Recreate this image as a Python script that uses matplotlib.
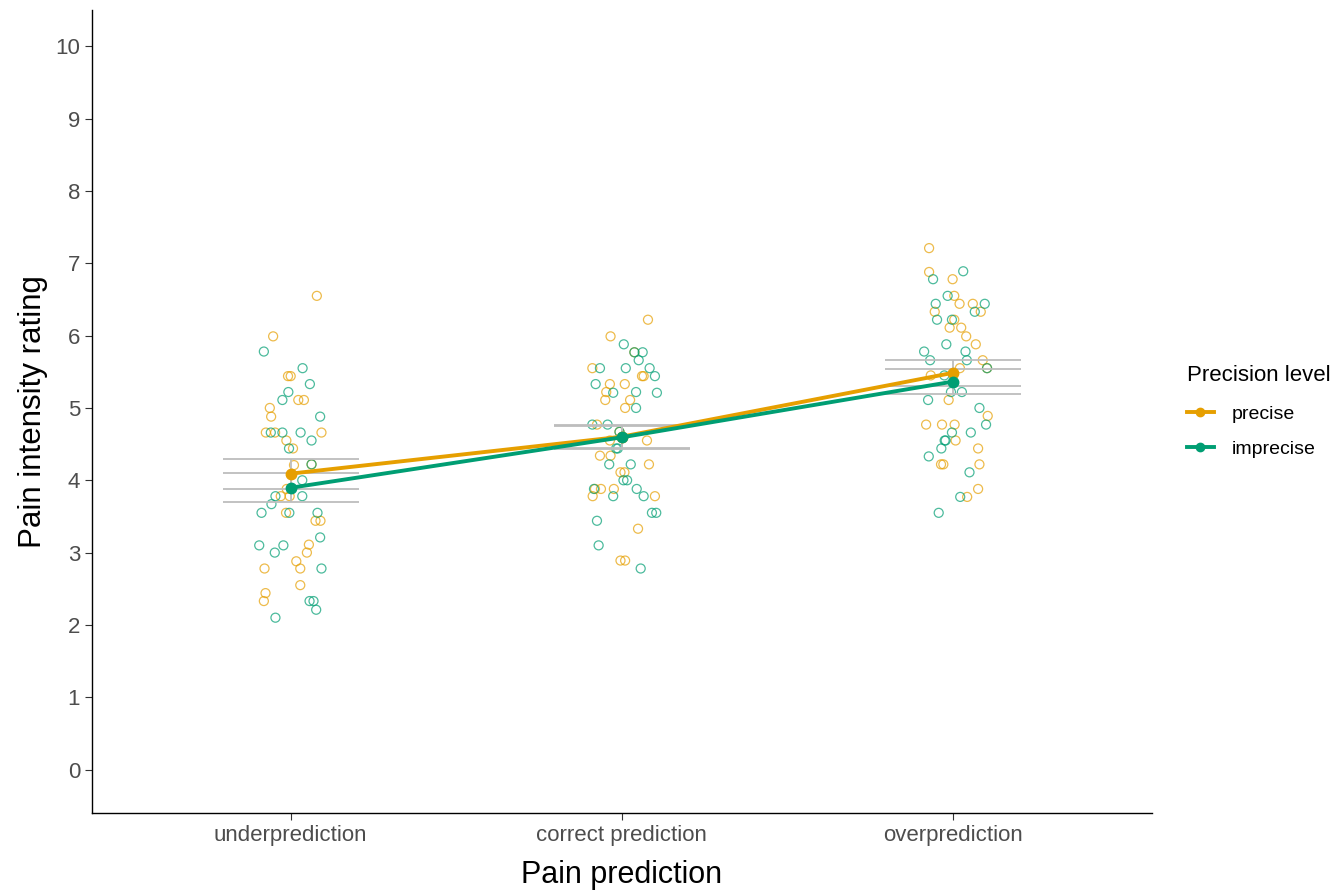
import matplotlib.pyplot as plt
import numpy as np

plt.rcParams['font.family'] = ['Liberation Sans', 'DejaVu Sans']

categories = ["underprediction", "correct prediction", "overprediction"]
levels = ["precise", "imprecise"]
colors = {"precise": "#E69F00", "imprecise": "#009E73"}

# individual ratings (value, horizontal jitter)
under_precise = [6.55, 5.99, 5.44, 5.44, 5.11, 5.11, 5.00, 4.88, 4.66, 4.66, 4.66, 4.55, 4.44,
                 4.21, 4.22, 3.88, 3.78, 3.78, 3.55, 3.44, 3.44, 3.11, 3.00, 2.88, 2.78, 2.78,
                 2.55, 2.44, 2.33]
under_precise_jit = [0.079, -0.053, -0.008, 0.0, 0.023, 0.04, -0.063, -0.059, -0.075, -0.047,
                     0.093, -0.013, 0.007, 0.01, 0.063, -0.012, -0.03, -0.003, -0.014, 0.075,
                     0.09, 0.055, 0.049, 0.017, -0.079, 0.029, 0.029, -0.076, -0.081]
under_imprecise = [5.78, 5.55, 5.33, 5.22, 5.11, 4.88, 4.66, 4.66, 4.66, 4.55, 4.44, 4.22, 4.00,
                   3.78, 3.78, 3.67, 3.55, 3.55, 3.55, 3.21, 3.10, 3.10, 3.00, 2.78, 2.33, 2.33,
                   2.21, 2.10]
under_imprecise_jit = [-0.081, 0.036, 0.058, -0.007, -0.025, 0.089, -0.06, -0.025, 0.03, 0.063,
                       -0.005, 0.063, 0.035, -0.046, 0.035, -0.058, -0.088, -0.004, 0.081, 0.089,
                       -0.095, -0.022, -0.048, 0.093, 0.057, 0.069, 0.077, -0.046]

correct_precise = [6.22, 5.99, 5.77, 5.55, 5.44, 5.44, 5.33, 5.33, 5.22, 5.11, 5.11, 5.00, 4.77,
                   4.67, 4.55, 4.55, 4.34, 4.34, 4.22, 4.11, 4.11, 3.88, 3.88, 3.88, 3.78, 3.78,
                   3.33, 2.89, 2.89]
correct_precise_jit = [0.079, -0.034, 0.038, -0.089, 0.061, 0.066, -0.036, 0.009, -0.047, 0.025,
                       -0.05, 0.01, -0.075, -0.007, -0.036, 0.076, -0.066, -0.034, 0.082, -0.004,
                       0.008, -0.081, -0.063, -0.024, -0.088, 0.1, 0.049, -0.004, 0.01]
correct_imprecise = [5.88, 5.77, 5.77, 5.66, 5.55, 5.55, 5.55, 5.44, 5.33, 5.21, 5.22, 5.21, 5.00,
                     4.77, 4.77, 4.67, 4.44, 4.44, 4.22, 4.22, 4.00, 4.00, 3.88, 3.88, 3.78, 3.78,
                     3.55, 3.55, 3.44, 3.10, 2.78]
correct_imprecise_jit = [0.006, 0.038, 0.063, 0.051, -0.066, 0.012, 0.084, 0.1, -0.079, -0.026,
                         0.043, 0.106, 0.043, -0.089, -0.043, -0.007, -0.017, -0.012, -0.038,
                         0.027, 0.005, 0.016, -0.084, 0.045, -0.026, 0.066, 0.091, 0.104, -0.075,
                         -0.07, 0.057]

over_precise = [7.21, 6.88, 6.78, 6.55, 6.44, 6.44, 6.33, 6.33, 6.22, 6.11, 6.11, 5.99, 5.88,
                5.66, 5.55, 5.55, 5.45, 5.11, 4.89, 4.77, 4.77, 4.77, 4.55, 4.44, 4.22, 4.22,
                4.22, 3.88, 3.77]
over_precise_jit = [-0.072, -0.072, -0.001, 0.004, 0.02, 0.06, -0.055, 0.084, 0.004, -0.01, 0.025,
                    0.04, 0.069, 0.09, 0.103, 0.021, -0.067, -0.013, 0.105, -0.081, -0.033, 0.005,
                    0.008, 0.076, -0.036, -0.029, 0.08, 0.076, 0.043]
over_imprecise = [6.89, 6.78, 6.55, 6.44, 6.44, 6.33, 6.22, 6.22, 5.88, 5.78, 5.78, 5.66, 5.66,
                  5.55, 5.45, 5.22, 5.22, 5.11, 5.00, 4.77, 4.66, 4.66, 4.55, 4.55, 4.44, 4.33,
                  4.11, 3.77, 3.55]
over_imprecise_jit = [0.031, -0.06, -0.016, -0.052, 0.096, 0.066, -0.048, -0.003, -0.02, -0.087,
                      0.038, -0.069, 0.042, 0.103, -0.026, -0.006, 0.027, -0.075, 0.08, 0.1,
                      -0.003, 0.054, -0.025, -0.022, -0.035, -0.073, 0.05, 0.022, -0.043]

ratings = {
    "precise": [under_precise, correct_precise, over_precise],
    "imprecise": [under_imprecise, correct_imprecise, over_imprecise],
}
jitters = {
    "precise": [under_precise_jit, correct_precise_jit, over_precise_jit],
    "imprecise": [under_imprecise_jit, correct_imprecise_jit, over_imprecise_jit],
}

fig = plt.figure(figsize=(13.43, 8.92), dpi=100)
ax = fig.add_axes([0.0685, 0.0886, 0.789, 0.900])
xpos = np.arange(1, len(categories) + 1)

# raw points
for level in levels:
    for i in range(len(categories)):
        vals = np.array(ratings[level][i])
        jit = np.array(jitters[level][i])
        ax.scatter(xpos[i] + jit, vals, s=42, facecolors="none",
                   edgecolors=colors[level], linewidths=0.9, alpha=0.7, zorder=2)

# standard error bars
for level in levels:
    for i in range(len(categories)):
        vals = np.array(ratings[level][i])
        m = vals.mean()
        se = vals.std(ddof=1) / np.sqrt(len(vals))
        ax.errorbar(xpos[i], m, yerr=se, color="#BDBDBD", lw=1.3, capsize=49,
                    capthick=1.3, zorder=3)

# means with lines
for level in levels:
    means = [np.mean(v) for v in ratings[level]]
    ax.plot(xpos, means, color=colors[level], lw=2.8, marker="o", markersize=7.5,
            label=level, zorder=4)

ax.set_xlim(0.4, 3.6)
ax.set_ylim(-0.6, 10.5)
ax.set_xticks(xpos)
ax.set_xticklabels(categories)
ax.set_yticks(np.arange(0, 11))
ax.tick_params(labelsize=16, labelcolor="#4D4D4D", length=5, color="#333333")
ax.set_xlabel("Pain prediction", fontsize=22, labelpad=10)
ax.set_ylabel("Pain intensity rating", fontsize=22.5, labelpad=5)
for side in ["top", "right"]:
    ax.spines[side].set_visible(False)
for side in ["left", "bottom"]:
    ax.spines[side].set_linewidth(1.0)

leg = ax.legend(title="Precision level", loc="center left", bbox_to_anchor=(1.0165, 0.5),
                frameon=False, fontsize=14, title_fontsize=16, handlelength=1.4,
                handletextpad=0.9, labelspacing=0.9, markerscale=0.8)
leg._legend_box.align = "left"
leg._legend_box.sep = 14

fig.savefig("out.png", dpi=100)
